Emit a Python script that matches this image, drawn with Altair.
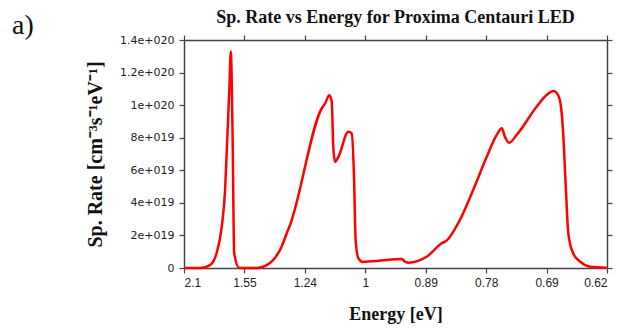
import altair as alt
import pandas as pd

# wavelength positions (nm) along the linear axis, labelled with photon energy
wavelength_nm = [600, 653, 686, 708, 725, 736, 743, 750, 755, 761, 766, 783, 841, 874, 901, 923,
                 940, 951, 1056, 1067, 1081, 1089, 1094, 1100, 1111, 1144, 1155, 1163, 1168, 1177,
                 1193, 1199, 1238, 1321, 1331, 1342, 1403, 1453, 1469, 1513, 1557, 1602, 1635,
                 1652, 1662, 1676, 1701, 1767, 1800, 1822, 1833, 1844, 1855, 1864, 1872, 1888,
                 1911, 1944, 1999]
# spontaneous rate in units of 1e19 cm^-3 s^-1 eV^-1
rate_1e19 = [0.0, 0.0, 0.18, 0.92, 2.54, 4.79, 7.86, 10.93, 13.3, 7.86, 0.92, 0.0, 0.0, 0.18,
             0.61, 1.31, 2.13, 2.64, 9.81, 10.11, 10.6, 10.21, 7.45, 6.53, 6.83, 8.37, 8.27,
             5.40, 1.72, 0.61, 0.37, 0.39, 0.43, 0.55, 0.39, 0.33, 0.69, 1.52, 1.68, 2.95,
             4.79, 6.83, 8.17, 8.58, 8.06, 7.69, 8.17, 9.90, 10.62, 10.87, 10.76, 10.32, 8.27,
             4.79, 2.13, 0.90, 0.39, 0.08, 0.02]

x_ticks = [600, 800, 1000, 1200, 1400, 1600, 1800, 2000]
x_tick_labels = ["2.1", "1.55", "1.24", "1", "0.89", "0.78", "0.69", "0.62"]
y_ticks = [0, 2e19, 4e19, 6e19, 8e19, 1e20, 1.2e20, 1.4e20]
y_tick_labels = ["0", "2e+019", "4e+019", "6e+019", "8e+019", "1e+020", "1.2e+020", "1.4e+020"]

title_text = "Sp. Rate vs Energy for Proxima Centauri LED"
panel_text = "a)"

df = pd.DataFrame({"wl": wavelength_nm, "rate": [v * 1e19 for v in rate_1e19]})

x_expr = "[" + ",".join(f"'{s}'" for s in x_tick_labels) + "][round((datum.value-600)/200)]"
y_expr = "[" + ",".join(f"'{s}'" for s in y_tick_labels) + "][round(datum.value/2e19)]"

xscale = alt.Scale(domain=[600, 2000], nice=False, zero=False)
yscale = alt.Scale(domain=[0, 1.4e20], nice=False)

axis_common = dict(domainColor="#444", domainWidth=1.5, tickColor="#444", tickWidth=1.2,
                   tickSize=5, grid=False)

base = alt.Chart(df)

line = base.mark_line(color="#ff0000", strokeWidth=2.5, interpolate="monotone").encode(
    x=alt.X("wl:Q", scale=xscale,
            axis=alt.Axis(values=x_ticks, labelExpr=x_expr, title="Energy [eV]",
                          labelFont="Liberation Sans", labelFontSize=12, labelColor="#222",
                          labelPadding=4, titleFont="Liberation Serif", titleFontSize=18,
                          titleFontWeight="bold", titleColor="#111", titlePadding=17,
                          **axis_common)),
    y=alt.Y("rate:Q", scale=yscale,
            axis=alt.Axis(values=y_ticks, labelExpr=y_expr, title="Sp. Rate [cm⁻³s⁻¹eV⁻¹]",
                          labelFont="DejaVu Sans", labelFontSize=11, labelColor="#222",
                          labelPadding=5, titleFont="Liberation Serif", titleFontSize=20,
                          titleFontWeight="bold", titleColor="#111", titlePadding=14,
                          **axis_common)),
)

frame = base.mark_line(opacity=0).encode(
    x=alt.X("wl:Q", scale=xscale,
            axis=alt.Axis(orient="top", values=x_ticks, labels=False, title=None, **axis_common)),
    y=alt.Y("rate:Q", scale=yscale,
            axis=alt.Axis(orient="right", values=y_ticks, labels=False, title=None, **axis_common)),
)

label_a = alt.Chart(pd.DataFrame({"t": [panel_text]})).mark_text(
    font="Liberation Serif", fontSize=28, align="left", baseline="alphabetic", color="#111"
).encode(x=alt.value(-172), y=alt.value(-6), text="t:N")

title_mark = alt.Chart(pd.DataFrame({"t": [title_text]})).mark_text(
    font="Liberation Serif", fontSize=18, fontWeight="bold", align="center",
    baseline="alphabetic", color="#111"
).encode(x=alt.value(211.5), y=alt.value(-17), text="t:N")

chart = alt.layer(line, frame, label_a, title_mark).resolve_axis(
    x="independent", y="independent"
).properties(
    width=423, height=228,
    padding={"left": 184, "top": 40, "right": 16, "bottom": 60},
    autosize="none",
).configure_view(stroke=None)

chart.save("out.html", embed_options={"renderer": "svg", "actions": False})
